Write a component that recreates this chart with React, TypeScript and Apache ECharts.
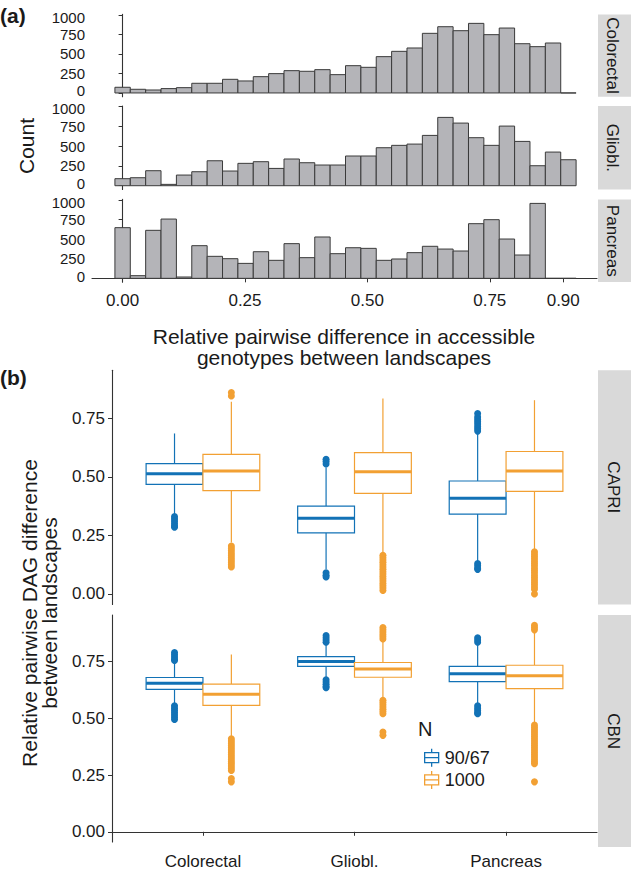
import React, { useEffect, useRef } from "react";
import * as echarts from "echarts";

const FONT = "'Liberation Sans', Arial, Helvetica, sans-serif";
const TEXT = "#1a1a1a";
const AXIS = "#333333";
const BLUE = "#1272B6";
const ORANGE = "#F2A033";
const BAR_FILL = "#b4b4b8";
const STRIP_FILL = "#d9d9d9";

// ---------- (a) histograms ----------
const HIST_PANELS = ["Colorectal", "Gliobl.", "Pancreas"];
const BIN_FIRST_CENTER = 0;
const BIN_WIDTH = 0.0314;
const countsColorectal = [73, 47, 38, 56, 68, 124, 124, 175, 154, 209, 248, 286, 278, 299, 235, 350, 329, 466, 534, 577, 765, 850, 799, 893, 748, 833, 632, 594, 641, 0];
const countsGliobl = [89, 101, 190, 17, 135, 177, 316, 186, 283, 304, 219, 338, 291, 262, 262, 376, 376, 481, 511, 527, 637, 865, 793, 608, 511, 755, 561, 253, 426, 329];
const countsPancreas = [647, 34, 613, 757, 17, 417, 281, 251, 191, 340, 230, 443, 264, 528, 315, 391, 383, 230, 247, 328, 409, 374, 349, 698, 749, 502, 298, 957, 0, 0];
const HIST_COUNTS = [countsColorectal, countsGliobl, countsPancreas];
const HIST_X_TICKS = [0, 0.25, 0.5, 0.75, 0.9];
const HIST_Y_TICKS = [0, 250, 500, 750, 1000];

// ---------- (b) boxplots ----------
const BOX_CATEGORIES = ["Colorectal", "Gliobl.", "Pancreas"];
const BOX_ROWS = ["CAPRI", "CBN"];
const GROUPS = ["90/67", "1000"];
const BOX_Y_TICKS = [0, 0.25, 0.5, 0.75];
const BOX_X_TICKS = [1, 2, 3];
// [whiskerLow, q1, median, q3, whiskerHigh] for Colorectal, Gliobl., Pancreas
const capriSmall = [
  [0.34, 0.468, 0.513, 0.556, 0.685],
  [0.105, 0.261, 0.323, 0.375, 0.54],
  [0.14, 0.341, 0.409, 0.482, 0.685],
];
const capriLarge = [
  [0.22, 0.441, 0.525, 0.596, 0.82],
  [0.175, 0.429, 0.522, 0.603, 0.834],
  [0.19, 0.438, 0.525, 0.608, 0.827],
];
const cbnSmall = [
  [0.56, 0.628, 0.655, 0.68, 0.745],
  [0.68, 0.729, 0.751, 0.772, 0.824],
  [0.565, 0.662, 0.697, 0.729, 0.825],
];
const cbnLarge = [
  [0.42, 0.557, 0.606, 0.651, 0.781],
  [0.585, 0.681, 0.718, 0.746, 0.844],
  [0.476, 0.631, 0.688, 0.734, 0.885],
];
const capriSmallOut = [
  [0.33, 0.32, 0.31, 0.3, 0.29, 0.285],
  [0.575, 0.565, 0.555, 0.09, 0.08, 0.072],
  [0.77, 0.755, 0.745, 0.735, 0.725, 0.715, 0.705, 0.695, 0.13, 0.12, 0.11, 0.105],
];
const capriLargeOut = [
  [0.86, 0.845, 0.205, 0.195, 0.185, 0.175, 0.165, 0.155, 0.145, 0.135, 0.125, 0.115],
  [0.165, 0.155, 0.145, 0.135, 0.125, 0.115, 0.105, 0.095, 0.085, 0.075, 0.065, 0.055, 0.045, 0.035, 0.025, 0.015],
  [0.18, 0.17, 0.16, 0.15, 0.14, 0.13, 0.12, 0.11, 0.1, 0.09, 0.08, 0.07, 0.06, 0.05, 0.04, 0.03, 0.02, 0.0],
];
const cbnSmallOut = [
  [0.79, 0.78, 0.77, 0.76, 0.755, 0.555, 0.545, 0.535, 0.525, 0.515, 0.505, 0.495],
  [0.865, 0.855, 0.845, 0.835, 0.67, 0.66, 0.65, 0.64, 0.635],
  [0.855, 0.845, 0.835, 0.555, 0.545, 0.535, 0.525, 0.52],
];
const cbnLargeOut = [
  [0.41, 0.4, 0.39, 0.38, 0.37, 0.36, 0.35, 0.34, 0.33, 0.32, 0.31, 0.3, 0.29, 0.28, 0.27, 0.235, 0.22],
  [0.9, 0.89, 0.88, 0.87, 0.86, 0.85, 0.58, 0.57, 0.56, 0.55, 0.54, 0.53, 0.52, 0.44, 0.425],
  [0.91, 0.9, 0.89, 0.47, 0.46, 0.45, 0.44, 0.43, 0.42, 0.41, 0.4, 0.39, 0.38, 0.37, 0.36, 0.35, 0.34, 0.33, 0.32, 0.31, 0.3, 0.22],
];
const BOX_STATS = [[capriSmall, capriLarge], [cbnSmall, cbnLarge]];
const BOX_OUT = [[capriSmallOut, capriLargeOut], [cbnSmallOut, cbnLargeOut]];

// ---------- layout ----------
const HIST_LEFT = 92;
const HIST_WIDTH = 505;
const HIST_GRIDS = [
  { top: 14.4, height: 82.3 },
  { top: 106.1, height: 83.4 },
  { top: 199.4, height: 82.7 },
];
const BOX_LEFT = 112;
const BOX_WIDTH = 485;
const BOX_GRIDS = [
  { top: 370.2, height: 234.3 },
  { top: 615.1, height: 232 },
];
const STRIP_X = 598;
const STRIP_W = 40;
const DODGE = 0.1875;
const BOX_ICON = "path://M8,0V4M1,4H15V14H1ZM1,9H15M8,14V18";

function buildOption() {
  const grids: any[] = [];
  const xAxes: any[] = [];
  const yAxes: any[] = [];
  const series: any[] = [];
  const graphics: any[] = [];
  const axisLine = { lineStyle: { color: AXIS, width: 1.1 } };
  const labelStyle = { color: TEXT, fontSize: 17, fontFamily: FONT };

  HIST_GRIDS.forEach((g, i) => {
    grids.push({ left: HIST_LEFT, width: HIST_WIDTH, top: g.top, height: g.height, containLabel: false });
    const last = i === HIST_GRIDS.length - 1;
    xAxes.push({
      type: "value",
      gridIndex: i,
      min: -0.0625,
      max: 0.969,
      axisLine: { show: last, ...axisLine },
      axisTick: { show: last, customValues: HIST_X_TICKS, length: 4, lineStyle: { color: AXIS } },
      axisLabel: {
        show: last,
        customValues: HIST_X_TICKS,
        formatter: (v: number) => v.toFixed(2),
        margin: 10,
        ...labelStyle,
      },
      splitLine: { show: false },
    });
    yAxes.push({
      type: "value",
      gridIndex: i,
      min: -48,
      max: 1008,
      axisLine: { show: true, ...axisLine },
      axisTick: { show: true, customValues: HIST_Y_TICKS, length: 4, lineStyle: { color: AXIS } },
      axisLabel: {
        customValues: HIST_Y_TICKS,
        formatter: (v: number) => {
          const s = String(Math.round(v));
          if (v === HIST_Y_TICKS[0]) return "{lo|" + s + "}";
          if (v === HIST_Y_TICKS[HIST_Y_TICKS.length - 1]) return "{hi|" + s + "}";
          return s;
        },
        margin: 7,
        color: TEXT,
        fontFamily: FONT,
        fontSize: 15,
        rich: {
          lo: { fontSize: 15, fontFamily: FONT, color: TEXT, padding: [0, 0, 4, 0] },
          hi: { fontSize: 15, fontFamily: FONT, color: TEXT, padding: [4, 0, 0, 0] },
        },
      },
      splitLine: { show: false },
    });
    series.push({
      type: "custom",
      name: HIST_PANELS[i],
      xAxisIndex: i,
      yAxisIndex: i,
      encode: { x: [0, 1], y: 2 },
      data: HIST_COUNTS[i].map((c, k) => [
        BIN_FIRST_CENTER + (k - 0.5) * BIN_WIDTH,
        BIN_FIRST_CENTER + (k + 0.5) * BIN_WIDTH,
        c,
      ]),
      renderItem: (_p: any, api: any) => {
        const a = api.coord([api.value(0), api.value(2)]);
        const b = api.coord([api.value(1), 0]);
        return {
          type: "rect",
          shape: { x: a[0], y: a[1], width: b[0] - a[0], height: b[1] - a[1] },
          style: { fill: BAR_FILL, stroke: "#3a3a3a", lineWidth: 1 },
        };
      },
    });
    graphics.push({
      type: "rect",
      shape: { x: STRIP_X, y: g.top, width: STRIP_W, height: g.height },
      style: { fill: STRIP_FILL },
      silent: true,
    });
    graphics.push({
      type: "text",
      x: 612,
      y: g.top + g.height / 2,
      rotation: -Math.PI / 2,
      style: { text: HIST_PANELS[i], align: "center", verticalAlign: "middle", fill: TEXT, fontSize: 17, fontFamily: FONT },
    });
  });

  BOX_GRIDS.forEach((g, r) => {
    const gi = HIST_GRIDS.length + r;
    grids.push({ left: BOX_LEFT, width: BOX_WIDTH, top: g.top, height: g.height, containLabel: false });
    const last = r === BOX_GRIDS.length - 1;
    xAxes.push({
      type: "value",
      gridIndex: gi,
      min: 0.4,
      max: 3.6,
      axisLine: { show: last, ...axisLine },
      axisTick: { show: last, customValues: BOX_X_TICKS, length: 4, lineStyle: { color: AXIS } },
      axisLabel: {
        show: last,
        customValues: BOX_X_TICKS,
        formatter: (v: number) => BOX_CATEGORIES[Math.round(v) - 1] || "",
        margin: 11,
        ...labelStyle,
      },
      splitLine: { show: false },
    });
    yAxes.push({
      type: "value",
      gridIndex: gi,
      min: -0.045,
      max: 0.955,
      axisLine: { show: true, ...axisLine },
      axisTick: { show: true, customValues: BOX_Y_TICKS, length: 4, lineStyle: { color: AXIS } },
      axisLabel: { customValues: BOX_Y_TICKS, formatter: (v: number) => v.toFixed(2), margin: 7, ...labelStyle },
      splitLine: { show: false },
    });
    GROUPS.forEach((name, gr) => {
      const color = gr === 0 ? BLUE : ORANGE;
      const off = gr === 0 ? -DODGE : DODGE;
      series.push({
        type: "custom",
        name,
        xAxisIndex: gi,
        yAxisIndex: gi,
        encode: { x: 0, y: [1, 2, 3, 4, 5] },
        data: BOX_STATS[r][gr].map((s, i) => [BOX_X_TICKS[i], ...s]),
        renderItem: (_p: any, api: any) => {
          const x = api.value(0) + off;
          const low = api.value(1), q1 = api.value(2), med = api.value(3), q3 = api.value(4), high = api.value(5);
          const tl = api.coord([x - DODGE, q3]);
          const br = api.coord([x + DODGE, q1]);
          const ph = api.coord([x, high]);
          const p3 = api.coord([x, q3]);
          const p1 = api.coord([x, q1]);
          const pl = api.coord([x, low]);
          const ml = api.coord([x - DODGE, med]);
          const mr = api.coord([x + DODGE, med]);
          return {
            type: "group",
            children: [
              { type: "line", shape: { x1: ph[0], y1: ph[1], x2: p3[0], y2: p3[1] }, style: { stroke: color, lineWidth: 1.2 } },
              { type: "line", shape: { x1: p1[0], y1: p1[1], x2: pl[0], y2: pl[1] }, style: { stroke: color, lineWidth: 1.2 } },
              {
                type: "rect",
                shape: { x: tl[0], y: tl[1], width: br[0] - tl[0], height: br[1] - tl[1] },
                style: { fill: "#ffffff", stroke: color, lineWidth: 1.2 },
              },
              { type: "line", shape: { x1: ml[0], y1: ml[1], x2: mr[0], y2: mr[1] }, style: { stroke: color, lineWidth: 3 } },
            ],
          };
        },
      });
      const pts: number[][] = [];
      BOX_OUT[r][gr].forEach((vals, i) => vals.forEach((v) => pts.push([BOX_X_TICKS[i] + off, v])));
      series.push({
        type: "scatter",
        name: name + " outliers",
        xAxisIndex: gi,
        yAxisIndex: gi,
        data: pts,
        symbol: "circle",
        symbolSize: 7,
        itemStyle: { color, opacity: 1 },
        z: 3,
      });
    });
    graphics.push({
      type: "rect",
      shape: { x: STRIP_X, y: g.top, width: STRIP_W, height: g.height },
      style: { fill: STRIP_FILL },
      silent: true,
    });
    graphics.push({
      type: "text",
      x: 613,
      y: g.top + g.height / 2,
      rotation: -Math.PI / 2,
      style: { text: BOX_ROWS[r], align: "center", verticalAlign: "middle", fill: TEXT, fontSize: 17, fontFamily: FONT },
    });
  });

  // titles and panel letters
  const titleStyle = { fill: TEXT, fontSize: 21, fontFamily: FONT };
  graphics.push(
    { type: "text", x: 0, y: 15, style: { text: "(a)", align: "left", verticalAlign: "middle", fill: TEXT, fontSize: 21, fontWeight: "bold", fontFamily: FONT } },
    { type: "text", x: 0, y: 377, style: { text: "(b)", align: "left", verticalAlign: "middle", fill: TEXT, fontSize: 21, fontWeight: "bold", fontFamily: FONT } },
    { type: "text", x: 26, y: 146, rotation: Math.PI / 2, style: { text: "Count", align: "center", verticalAlign: "middle", ...titleStyle } },
    { type: "text", x: 344, y: 336, style: { text: "Relative pairwise difference in accessible", align: "center", verticalAlign: "middle", ...titleStyle } },
    { type: "text", x: 344, y: 357, style: { text: "genotypes between landscapes", align: "center", verticalAlign: "middle", ...titleStyle } },
    { type: "text", x: 29, y: 613, rotation: Math.PI / 2, style: { text: "Relative pairwise DAG difference", align: "center", verticalAlign: "middle", ...titleStyle } },
    { type: "text", x: 49, y: 613, rotation: Math.PI / 2, style: { text: "between landscapes", align: "center", verticalAlign: "middle", ...titleStyle } },
    { type: "text", x: 418, y: 729, style: { text: "N", align: "left", verticalAlign: "middle", fill: TEXT, fontSize: 20, fontFamily: FONT } }
  );

  return {
    animation: false,
    backgroundColor: "#ffffff",
    textStyle: { fontFamily: FONT },
    grid: grids,
    xAxis: xAxes,
    yAxis: yAxes,
    series,
    legend: {
      orient: "vertical",
      left: 419,
      top: 743,
      itemWidth: 16,
      itemHeight: 18,
      itemGap: 3,
      selectedMode: false,
      textStyle: { color: TEXT, fontSize: 18, fontFamily: FONT },
      data: [
        { name: GROUPS[0], icon: BOX_ICON, itemStyle: { color: "#ffffff", borderColor: BLUE, borderWidth: 1.3 } },
        { name: GROUPS[1], icon: BOX_ICON, itemStyle: { color: "#ffffff", borderColor: ORANGE, borderWidth: 1.3 } },
      ],
    },
    graphic: graphics,
  };
}

export default function App() {
  const ref = useRef<HTMLDivElement>(null);
  useEffect(() => {
    if (!ref.current) return;
    const chart = echarts.init(ref.current, null, { renderer: "svg" });
    chart.setOption(buildOption() as any);
    return () => chart.dispose();
  }, []);
  return (
    <div
      ref={ref}
      style={{ position: "absolute", left: 0, top: 0, width: 631, height: 870, background: "#ffffff" }}
    />
  );
}
